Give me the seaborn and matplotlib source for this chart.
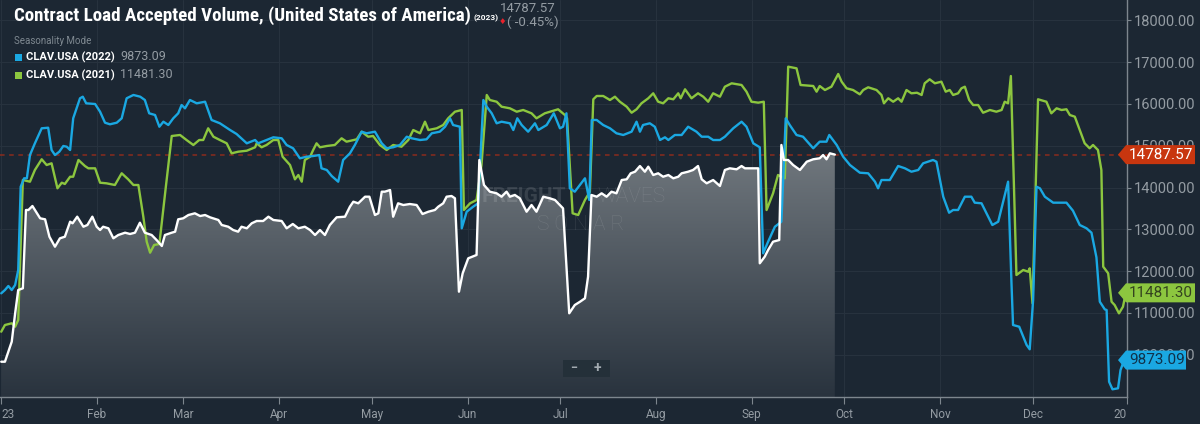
import numpy as np
import pandas as pd
import matplotlib
matplotlib.use('Agg')
import matplotlib.pyplot as plt
from matplotlib.colors import LinearSegmentedColormap
from matplotlib.patches import Polygon, Rectangle
import seaborn as sns

# day of year (2023 calendar) and Contract Load Accepted Volume readings
days_2023 = [0, 1.2, 3.4, 4.5, 5.5, 7.0, 8.0, 8.8, 10.1, 10.9,
             12.6, 14.2, 15.6, 17.4, 19.0, 20.6, 22.3, 23.1, 24.6, 26.6,
             27.9, 29.5, 30.9, 32.0, 33.0, 34.7, 36.3, 37.9, 40.1, 41.7,
             43.3, 44.9, 46.5, 48.7, 50.3, 52.0, 53.0, 55.2, 56.3, 57.3,
             58.9, 60.6, 62.7, 64.4, 66.0, 67.6, 70.3, 71.4, 73.5, 75.1,
             76.7, 77.8, 79.5, 81.1, 82.7, 84.8, 86.5, 88.1, 90.8, 92.4,
             94.4, 96.2, 98.3, 100.0, 101.6, 103.2, 104.8, 106.4, 108.6, 111.3,
             112.9, 114.0, 115.6, 117.8, 119.2, 121.0, 122.1, 123.2, 124.2, 125.9,
             126.9, 128.5, 130.2, 132.3, 134.5, 136.4, 138.3, 140.4, 141.5, 143.1,
             144.2, 145.8, 146.9, 148.2, 149.4, 151.2, 153.9, 154.8, 156.3, 158.2,
             160.4, 162.0, 163.6, 164.7, 166.3, 167.9, 170.1, 171.7, 173.3, 175.5,
             177.6, 179.3, 181.9, 183.9, 185.7, 187.4, 189.0, 190.0, 191.1, 192.8,
             194.4, 196.0, 197.6, 199.2, 200.9, 202.5, 203.8, 205.2, 206.8, 208.4,
             209.5, 211.1, 212.7, 214.3, 216.0, 217.6, 219.2, 220.3, 222.4, 224.0,
             225.6, 226.8, 228.4, 230.5, 232.7, 234.3, 235.9, 238.1, 239.7, 240.8,
             242.4, 245.1, 245.6, 247.2, 248.3, 249.9, 251.9, 252.6, 253.4, 254.8,
             256.4, 258.6, 260.8, 262.9, 265.0, 266.1, 267.2, 268.3, 269.9]
clav_2023 = [9834, 9834, 10313, 10992, 11549, 11590, 13463, 13463, 13558, 13463,
             13264, 13240, 12824, 12585, 12786, 12824, 13183, 13145, 13303, 13063,
             13104, 13303, 13063, 12984, 13063, 13025, 12786, 12865, 12920, 12889,
             12920, 13159, 12920, 12865, 12745, 12602, 12865, 12920, 12944, 13240,
             13264, 13343, 13384, 13319, 13343, 13288, 13224, 13104, 13063, 12984,
             12944, 13063, 13025, 13145, 13200, 13200, 13303, 13224, 13200, 13025,
             13128, 13025, 13063, 12984, 12865, 12984, 12865, 13104, 13288, 13303,
             13542, 13661, 13623, 13781, 13781, 13343, 13384, 13901, 13901, 13941,
             13303, 13623, 13582, 13606, 13582, 13367, 13422, 13463, 13542, 13623,
             13781, 13798, 13743, 11509, 11948, 12307, 12387, 14659, 14061, 13901,
             13862, 13781, 13901, 13781, 13822, 13743, 13422, 13582, 13422, 13781,
             13743, 13702, 13503, 10992, 11190, 11269, 11351, 11867, 13822, 13781,
             13862, 13781, 13901, 13862, 14180, 14197, 14340, 14379, 14515, 14379,
             14499, 14300, 14341, 14259, 14300, 14221, 14259, 14341, 14379, 14420,
             14515, 14197, 14102, 14180, 14037, 14420, 14460, 14436, 14515, 14460,
             14460, 14460, 12188, 12346, 12506, 12705, 12745, 15018, 14659, 14659,
             14539, 14420, 14618, 14676, 14700, 14778, 14676, 14819, 14788]

days_2022 = [0, 1.2, 2.3, 3.4, 4.5, 5.5, 6.3, 7.4, 8.3, 9.3,
             10.9, 13.1, 15.2, 16.3, 17.4, 18.8, 20.1, 21.2, 22.3, 23.3,
             25.5, 26.4, 27.5, 30.4, 32.0, 33.6, 35.2, 37.4, 39.0, 40.6,
             42.8, 45.0, 46.5, 47.9, 49.8, 51.2, 52.5, 54.1, 55.7, 57.3,
             58.4, 59.5, 61.1, 63.3, 66.0, 68.1, 70.8, 74.1, 76.2, 79.5,
             82.2, 83.2, 85.9, 88.1, 90.8, 92.4, 94.5, 96.7, 98.9, 101.0,
             103.0, 103.7, 105.4, 107.0, 109.1, 110.7, 112.9, 114.5, 116.7, 118.3,
             121.0, 123.2, 124.8, 126.9, 129.1, 131.3, 132.9, 135.6, 137.7, 139.4,
             142.0, 143.7, 145.3, 146.3, 148.5, 149.1, 150.7, 152.8, 154.4, 156.1,
             157.2, 158.8, 160.4, 162.0, 164.7, 165.8, 167.1, 168.5, 170.6, 172.8,
             173.9, 176.6, 178.9, 180.9, 181.9, 183.0, 184.1, 185.7, 189.0, 190.4,
             191.2, 192.8, 194.9, 197.1, 199.2, 201.4, 204.1, 205.7, 206.8, 207.8,
             210.0, 211.6, 213.3, 214.9, 216.0, 218.1, 220.3, 222.4, 225.1, 226.8,
             228.9, 230.5, 232.7, 234.3, 237.0, 239.7, 241.3, 243.5, 245.6, 246.7,
             248.3, 250.5, 252.6, 254.0, 255.3, 257.5, 259.6, 262.9, 265.0, 267.2,
             268.1, 270.5, 272.6, 274.8, 278.0, 280.7, 282.9, 283.9, 285.0, 287.7,
             290.4, 292.6, 294.7, 296.9, 298.5, 301.7, 302.8, 305.0, 306.9, 308.2,
             309.8, 312.0, 314.1, 315.2, 317.4, 319.0, 320.9, 322.8, 326.0, 327.1,
             327.6, 329.6, 330.9, 332.0, 333.0, 334.1, 335.2, 336.3, 337.9, 340.6,
             344.9, 347.0, 349.2, 351.4, 353.0, 354.6, 355.7, 357.3, 357.9, 358.7,
             359.8, 361.6, 362.4, 363.2, 364.1]
clav_2022 = [11470, 11549, 11645, 11549, 11669, 12028, 14020, 14221, 14221, 14778,
             15058, 15417, 15431, 14898, 14778, 14857, 14994, 14977, 14898, 15656,
             16135, 16173, 16015, 15998, 15814, 15551, 15513, 15551, 15656, 16135,
             16214, 16173, 16094, 15776, 15735, 15455, 15575, 15496, 15656, 15776,
             15974, 15895, 16094, 16015, 16053, 15616, 15537, 15376, 15281, 15058,
             15137, 15058, 15137, 15202, 15178, 15018, 14939, 14699, 14738, 14754,
             14778, 14460, 14420, 14276, 14140, 14659, 14819, 15018, 15336, 15298,
             15336, 15058, 14939, 14963, 15018, 15216, 15178, 15137, 15154, 15298,
             15336, 15455, 15656, 15496, 15455, 13025, 13422, 13542, 13623, 16094,
             15934, 15776, 15537, 15575, 15537, 15376, 15656, 15496, 15336, 15537,
             15376, 15496, 15776, 15417, 15455, 15776, 13982, 13901, 14221, 13702,
             15616, 15616, 15496, 15417, 15298, 15257, 15336, 15575, 15336, 15496,
             15537, 15455, 15137, 15202, 15137, 15257, 15257, 15455, 15336, 15216,
             15216, 15137, 15137, 15216, 15417, 15575, 15455, 15058, 14963, 12427,
             12705, 13063, 13183, 15656, 15496, 15257, 15216, 14939, 15097, 15097,
             15257, 15018, 14738, 14539, 14355, 14341, 14140, 13982, 14180, 14180,
             14515, 14460, 14379, 14420, 14580, 14659, 14618, 13781, 13398, 13463,
             13463, 13781, 13781, 13638, 13623, 13384, 13104, 13183, 14140, 11709,
             10712, 10671, 10432, 10234, 10131, 11310, 14020, 13982, 13781, 13638,
             13638, 13446, 13104, 13025, 12920, 12331, 11269, 11087, 11071, 9355,
             9174, 9198, 9635, 9796, 9873]

days_2021 = [0, 1.2, 3.4, 4.5, 5.5, 7.0, 9.3, 10.9, 13.1, 14.7,
             16.3, 18.2, 19.6, 20.6, 22.3, 23.3, 25.0, 27.1, 28.2, 30.4,
             32.0, 34.1, 36.8, 39.0, 41.1, 42.8, 44.4, 46.0, 47.1, 48.2,
             49.5, 51.2, 53.3, 55.2, 57.9, 60.0, 62.2, 64.1, 65.4, 67.0,
             68.7, 70.8, 73.0, 74.6, 76.7, 79.5, 82.2, 82.7, 84.3, 85.9,
             88.1, 89.7, 91.1, 93.5, 95.1, 96.2, 97.3, 98.3, 100.0, 101.0,
             102.1, 103.2, 105.4, 108.0, 110.2, 111.8, 115.1, 116.7, 118.8, 120.4,
             122.6, 124.8, 126.9, 129.6, 131.8, 133.4, 135.6, 137.2, 138.3, 141.0,
             143.1, 144.7, 146.9, 149.1, 149.8, 151.8, 153.9, 155.5, 157.2, 158.2,
             160.4, 162.0, 164.7, 166.9, 169.0, 171.7, 173.3, 176.0, 180.3, 182.5,
             183.2, 185.0, 186.8, 189.0, 190.6, 191.7, 192.8, 194.9, 197.1, 198.7,
             200.3, 202.5, 204.1, 205.7, 207.3, 209.5, 211.1, 212.7, 214.3, 216.0,
             217.6, 219.2, 220.0, 221.4, 223.5, 225.6, 227.3, 228.9, 230.5, 232.7,
             234.3, 236.5, 239.7, 241.3, 242.9, 245.1, 246.9, 247.8, 249.9, 251.5,
             252.6, 253.7, 254.8, 257.5, 258.8, 262.9, 264.0, 265.0, 266.7, 268.8,
             271.0, 272.1, 273.7, 275.8, 278.0, 279.1, 280.7, 283.4, 285.0, 285.8,
             287.2, 288.8, 290.4, 291.5, 293.1, 294.7, 296.5, 298.0, 299.0, 300.6,
             302.3, 304.4, 305.8, 307.1, 308.2, 309.8, 310.9, 312.0, 313.4, 314.7,
             316.3, 317.9, 320.1, 322.2, 323.9, 324.9, 326.0, 326.9, 328.7, 330.9,
             332.5, 333.0, 333.9, 335.7, 338.4, 340.0, 341.7, 343.3, 344.9, 346.0,
             347.6, 349.2, 350.8, 352.4, 353.5, 355.1, 356.2, 356.8, 358.4, 359.5,
             360.5, 361.9, 363.2, 364.1]
clav_2021 = [10552, 10712, 10753, 10672, 10832, 14180, 14140, 14420, 14676, 14539,
             14580, 13982, 14116, 14085, 14259, 14259, 14659, 14515, 14460, 14460,
             14116, 14101, 14061, 14341, 14197, 14061, 14061, 13303, 12705, 12442,
             12626, 12650, 14020, 15233, 15257, 15137, 15018, 15137, 15137, 15417,
             15216, 15137, 15058, 14819, 14857, 14881, 14963, 15058, 14963, 15018,
             15137, 15137, 14738, 14539, 14197, 14300, 14140, 14659, 14738, 14898,
             15058, 14963, 14994, 15018, 15178, 15097, 15154, 15336, 15216, 15233,
             15018, 14898, 15018, 14977, 15137, 15376, 15298, 15575, 15376, 15417,
             15496, 15656, 15814, 15855, 13463, 13623, 13702, 14539, 16214, 16094,
             16053, 15934, 15895, 15814, 15855, 15776, 15656, 15776, 15872, 15735,
             15656, 13384, 13343, 13702, 13901, 16111, 16190, 16190, 16094, 16173,
             16053, 15934, 15790, 15872, 16015, 16135, 16254, 16053, 16015, 16135,
             16111, 16254, 16135, 16350, 16135, 16254, 16173, 16053, 16254, 16173,
             16412, 16493, 16453, 16293, 16053, 16030, 16053, 13463, 13862, 14300,
             14259, 14221, 16891, 16852, 16453, 16429, 16293, 16429, 16333, 16412,
             16716, 16532, 16374, 16333, 16230, 16333, 16398, 16333, 16214, 16015,
             16135, 16053, 16135, 16053, 16333, 16254, 16268, 16214, 16494, 16589,
             16494, 16532, 16293, 16333, 16214, 16254, 16374, 16412, 16094, 15974,
             15974, 15790, 15855, 15814, 15855, 16053, 16015, 16668, 11908, 12028,
             11987, 12068, 11231, 16111, 16053, 15776, 15895, 15855, 15872, 15735,
             15695, 15376, 15058, 14939, 15018, 14898, 14420, 12107, 11949, 11269,
             11190, 10991, 11150, 11481]

month_days = [31, 59, 90, 120, 151, 181, 212, 243, 273, 304, 334]
month_labels = ['Feb', 'Mar', 'Apr', 'May', 'Jun', 'Jul', 'Aug', 'Sep', 'Oct', 'Nov', 'Dec']
y_ticks = [10000, 11000, 12000, 13000, 14000, 15000, 16000, 17000, 18000]

last_2023 = 14787.57
last_2022 = 9873.09
last_2021 = 11481.30
change_2023 = -0.45

BG = '#1c2733'
GRID = '#27323e'
AXIS = '#7d868e'
LABEL = '#949ca3'
BLUE = '#1aa8e2'
GREEN = '#8cc63f'
RED_TAG = '#c8360f'

sns.set_style('dark', {'axes.facecolor': BG, 'figure.facecolor': BG})
plt.rcParams['font.family'] = ['Roboto', 'DejaVu Sans']
narrow = ['Liberation Sans Narrow', 'Roboto Condensed', 'Roboto', 'DejaVu Sans']

W, H = 1200, 424
fig = plt.figure(figsize=(W / 100, H / 100), dpi=100, facecolor=BG)
ax = fig.add_axes([0, 27 / H, 1127 / W, 397 / H])
ax.set_facecolor(BG)


def px(x, y):
    return x / W, 1 - y / H


y_lo, y_hi = 8990, 18486
x_lo, x_hi = -0.4, 364.5

# gradient area under the 2023 line
area = ax.fill_between(days_2023, clav_2023, y_lo, color='none', lw=0)
cmap = LinearSegmentedColormap.from_list('sonar', ['#29333e', '#737a80'])
grad = np.linspace(0, 1, 256).reshape(-1, 1)
im = ax.imshow(grad, extent=[0, days_2023[-1], y_lo, 15100], origin='lower',
               aspect='auto', cmap=cmap, zorder=1)
im.set_clip_path(area.get_paths()[0], transform=ax.transData)

frames = []
for d, v, s in [(days_2021, clav_2021, '2021'), (days_2022, clav_2022, '2022'),
                (days_2023, clav_2023, '2023')]:
    frames.append(pd.DataFrame({'day': d, 'value': v, 'series': s}))
df = pd.concat(frames, ignore_index=True)

palette = {'2021': GREEN, '2022': BLUE, '2023': 'white'}
for s in ['2021', '2022', '2023']:
    sns.lineplot(data=df[df.series == s], x='day', y='value', color=palette[s],
                 lw=1.7, estimator=None, sort=False, ax=ax, zorder=3)

ax.axhline(last_2023, color='#8a2c1e', lw=1.1, ls=(0, (3, 3)), zorder=2)

ax.set_xlim(x_lo, x_hi)
ax.set_ylim(y_lo, y_hi)
ax.set_xlabel('')
ax.set_ylabel('')

ax.set_xticks([0] + month_days + [x_hi])
ax.set_xticklabels(['23'] + month_labels + ['20'])
xl = ax.get_xticklabels()
xl[0].set_ha('left')
xl[-1].set_ha('right')
ax.set_yticks(y_ticks)
ax.set_yticklabels([f'{t:.2f}' for t in y_ticks])
ax.yaxis.tick_right()
ax.tick_params(axis='x', colors=AXIS, labelcolor=LABEL, labelsize=8.5, length=5,
               width=0.8, direction='out', pad=3, bottom=True)
ax.tick_params(axis='y', colors=AXIS, labelcolor=LABEL, labelsize=10.5, length=3,
               width=0.8, direction='out', pad=2, right=True, left=False)

ax.grid(True, color=GRID, lw=0.8)
for side in ['top', 'left']:
    ax.spines[side].set_visible(False)
for side in ['right', 'bottom']:
    ax.spines[side].set_visible(True)
    ax.spines[side].set_color(AXIS)
    ax.spines[side].set_linewidth(1.0)

# watermark
fig.text(*px(482, 197), 'FREIGHT', fontsize=15, fontweight='bold', color='white',
         alpha=0.12, va='center', ha='left')
fig.text(*px(597, 197), 'WAVES', fontsize=15, fontweight='light', color='white',
         alpha=0.12, va='center', ha='left')
fig.text(*px(537, 224), 'S O N A R', fontsize=15, fontweight='light', color='white',
         alpha=0.12, va='center', ha='left')

# zoom buttons
fig.patches.append(Rectangle(px(563, 377), 47 / W, 17 / H, transform=fig.transFigure,
                             facecolor='#243039', edgecolor='none', zorder=5))
fig.text(*px(574, 368), '−', fontsize=9, color='#a3abb1', fontweight='bold',
         ha='center', va='center', zorder=8)
fig.text(*px(597, 368), '+', fontsize=10, color='#a3abb1', fontweight='bold',
         ha='center', va='center', zorder=8)

# title block, fitted to the reference width
title = fig.text(*px(14, 16), 'Contract Load Accepted Volume, (United States of America)',
                 fontsize=16, fontweight='bold', color='white', va='center', ha='left',
                 family=narrow, fontstretch='condensed')
fig.canvas.draw()
tw = title.get_window_extent().width
title.set_fontsize(16 * 458 / tw)

fig.text(*px(473, 18), '(2023)', fontsize=6, fontweight='bold', color='white',
         va='center', ha='left')
fig.text(*px(500, 8), f'{last_2023:.2f}', fontsize=9.5, color=LABEL, va='center', ha='left')
fig.text(*px(499, 22), '♦', fontsize=6, color='#e8212b', va='center', ha='left',
         family=['DejaVu Sans'])
fig.text(*px(507, 22), f'( {change_2023:.2f}%)', fontsize=9.5, color=LABEL,
         va='center', ha='left')

fig.text(*px(14, 41), 'Seasonality Mode', fontsize=7, color='#7f8991', va='center', ha='left')
for row_y, color, name, val in [(57, BLUE, 'CLAV.USA (2022)', last_2022),
                                (75, GREEN, 'CLAV.USA (2021)', last_2021)]:
    fig.patches.append(Rectangle(px(15, row_y + 3.5), 7 / W, 7 / H, transform=fig.transFigure,
                                 facecolor=color, edgecolor='none'))
    fig.text(*px(26, row_y), name, fontsize=8, fontweight='bold', color='white',
             va='center', ha='left')
    fig.text(*px(120, row_y), f'{val:.2f}', fontsize=9, color=LABEL, va='center', ha='left')


# price tags on the right axis
def price_tag(value, face, text_color, right):
    yd = ax.transData.transform((0, value))[1]
    yp = H - yd
    half = 9.5
    verts = [px(1118, yp), px(1126, yp - half), px(right, yp - half),
             px(right, yp + half), px(1126, yp + half)]
    fig.patches.append(Polygon(verts, closed=True, transform=fig.transFigure,
                               facecolor=face, edgecolor='none', zorder=6))
    fig.text(*px(1129, yp), f'{value:.2f}', fontsize=11, color=text_color,
             va='center', ha='left', zorder=7)


price_tag(last_2023, RED_TAG, 'white', 1195)
price_tag(last_2021, GREEN, '#34431f', 1195)
price_tag(last_2022, BLUE, '#10324a', 1186)

fig.savefig('out.png', dpi=100, facecolor=BG)
